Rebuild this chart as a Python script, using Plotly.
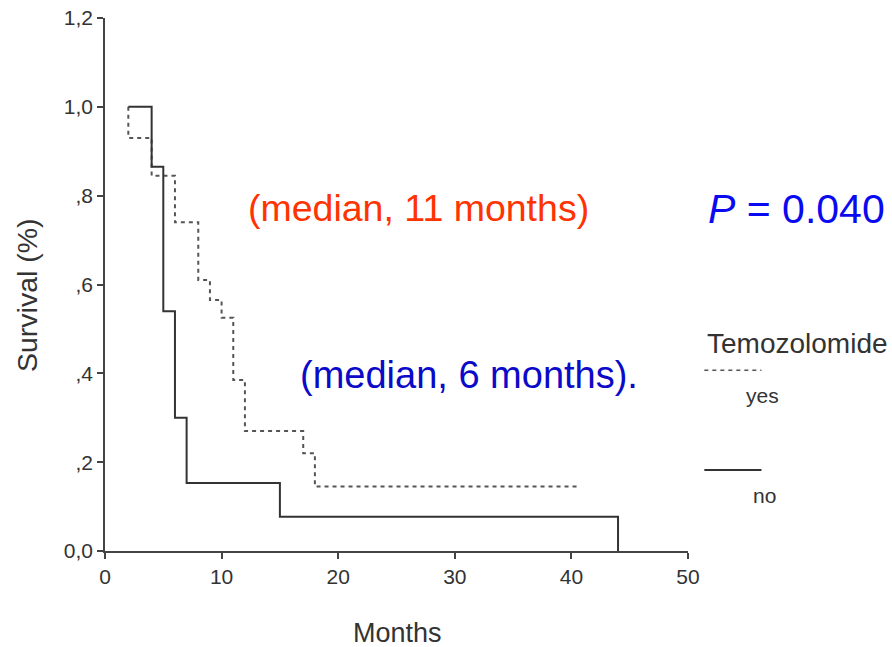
import plotly.graph_objects as go

# ---- data ----
yes_months = [2, 2, 4, 6, 8, 9, 10, 11, 12, 17, 18, 40.7]
yes_surv = [1.0, 0.93, 0.845, 0.74, 0.61, 0.565, 0.525, 0.385, 0.27, 0.22, 0.145, 0.145]

no_months = [2, 4, 5, 6, 7, 15, 44]
no_surv = [1.0, 0.865, 0.54, 0.30, 0.153, 0.077, 0.0]

x_ticks = [0, 10, 20, 30, 40, 50]
y_ticks = [0, 0.2, 0.4, 0.6, 0.8, 1.0, 1.2]
y_ticktext = ["0,0", ",2", ",4", ",6", ",8", "1,0", "1,2"]

FONT = "Liberation Sans, Arial, Helvetica, sans-serif"
AX = "#444444"

fig = go.Figure()
fig.add_trace(go.Scatter(x=yes_months, y=yes_surv, mode="lines", line_shape="hv",
                         line=dict(color="#555555", width=2, dash="4px,4px"),
                         cliponaxis=False, showlegend=False, name="yes"))
fig.add_trace(go.Scatter(x=no_months, y=no_surv, mode="lines", line_shape="hv",
                         line=dict(color="#333333", width=2),
                         cliponaxis=False, showlegend=False, name="no"))

fig.update_layout(
    width=892, height=647,
    margin=dict(l=105, r=204, t=18, b=96, autoexpand=False),
    paper_bgcolor="white", plot_bgcolor="white",
    font=dict(family=FONT, color="#333333"),
    showlegend=False,
)
fig.update_xaxes(range=[0, 50], tickvals=x_ticks, showgrid=False, zeroline=False,
                 showline=True, linecolor=AX, linewidth=1.5, automargin=False,
                 ticks="outside", ticklen=6, tickcolor=AX, tickwidth=1.5,
                 tickfont=dict(size=21, family=FONT, color="#333333"))
fig.update_yaxes(range=[0, 1.2], tickvals=y_ticks, ticktext=y_ticktext,
                 showgrid=False, zeroline=False, automargin=False,
                 showline=True, linecolor=AX, linewidth=1.5,
                 ticks="outside", ticklen=6, tickcolor=AX, tickwidth=1.5,
                 tickfont=dict(size=21, family=FONT, color="#333333"))

ann = [
    dict(text="Months", x=0.501, y=-0.154, font=dict(size=27, color="#333333")),
    dict(text="Survival (%)", x=-0.134, y=0.48, textangle=-90, font=dict(size=28.5, color="#333333")),
    dict(text="(median, 11 months)", x=0.538, y=0.6435, font=dict(size=37.5, color="#FF3300")),
    dict(text="(median, 6 months).", x=0.624, y=0.33, font=dict(size=38, color="#0A0AC8")),
    dict(text="<i>P</i> = 0.040", x=1.031, y=0.642, xanchor="left", font=dict(size=41, color="#0A0AF0")),
    dict(text="Temozolomide", x=1.03, y=0.389, xanchor="left", font=dict(size=28, color="#333333")),
    dict(text="yes", x=1.127, y=0.291, font=dict(size=21, color="#333333")),
    dict(text="no", x=1.131, y=0.105, font=dict(size=21, color="#333333")),
]
for a in ann:
    a.setdefault("xanchor", "center")
    a.update(xref="paper", yref="paper", showarrow=False, yanchor="middle")
    a["font"]["family"] = FONT
    fig.add_annotation(**a)

fig.add_shape(type="line", xref="paper", yref="paper", x0=1.028, x1=1.126, y0=0.339, y1=0.339,
              line=dict(color="#555555", width=1.5, dash="4px,4px"))
fig.add_shape(type="line", xref="paper", yref="paper", x0=1.028, x1=1.126, y0=0.152, y1=0.152,
              line=dict(color="#333333", width=2))

fig.write_html("out.html")
